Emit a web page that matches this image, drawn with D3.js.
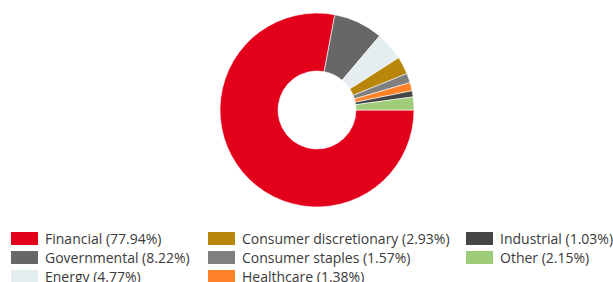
<!DOCTYPE html>
<meta charset="utf-8">
<script src="https://d3js.org/d3.v7.min.js"></script>
<style>
	body{
		margin:0;
		font-family: 'Open Sans', sans-serif;
		background:#fff;
	}
</style>
<div id="chart"></div>
<script>
	var sectors = ["Financial","Governmental","Energy","Consumer discretionary","Consumer staples","Healthcare","Industrial","Other"]
	var shares = [77.94,8.22,4.77,2.93,1.57,1.38,1.03,2.15]
	var colors = ["#e2001a","#676767","#e4edf0","#b8860b","#7f7f7f","#fe8228","#454545","#9fcc79"]

	var w = 613
	var h = 282
	var cx = 317
	var cy = 110
	var outerR = 97
	var innerR = 39

	var svg = d3.select("#chart").append("svg").attr("width",w).attr("height",h)

	var pie = d3.pie().sort(null).value(function(d){return d})
		.startAngle(Math.PI/2).endAngle(Math.PI/2+2*Math.PI)
	var arc = d3.arc().innerRadius(innerR).outerRadius(outerR)

	svg.append("g").attr("transform","translate("+cx+","+cy+")")
		.selectAll("path")
		.data(pie(shares))
		.enter()
		.append("path")
		.attr("d",arc)
		.attr("fill",function(d,i){return colors[i]})
		.attr("stroke","#fff")
		.attr("stroke-width",0.6)

	// legend, 3 rows per column
	var colX = [11,208,466]
	var rowY = [232,251,270]
	var legend = svg.selectAll(".item")
		.data(sectors)
		.enter()
		.append("g")
		.attr("transform",function(d,i){
			return "translate("+colX[Math.floor(i/3)]+","+rowY[i%3]+")"
		})
	legend.append("rect").attr("width",27).attr("height",13).attr("fill",function(d,i){return colors[i]})
	legend.append("text")
		.attr("x",34).attr("y",12)
		.attr("font-size","14px")
		.attr("fill","#3a3a3a")
		.text(function(d,i){return d+" ("+shares[i].toFixed(2)+"%)"})
</script>
